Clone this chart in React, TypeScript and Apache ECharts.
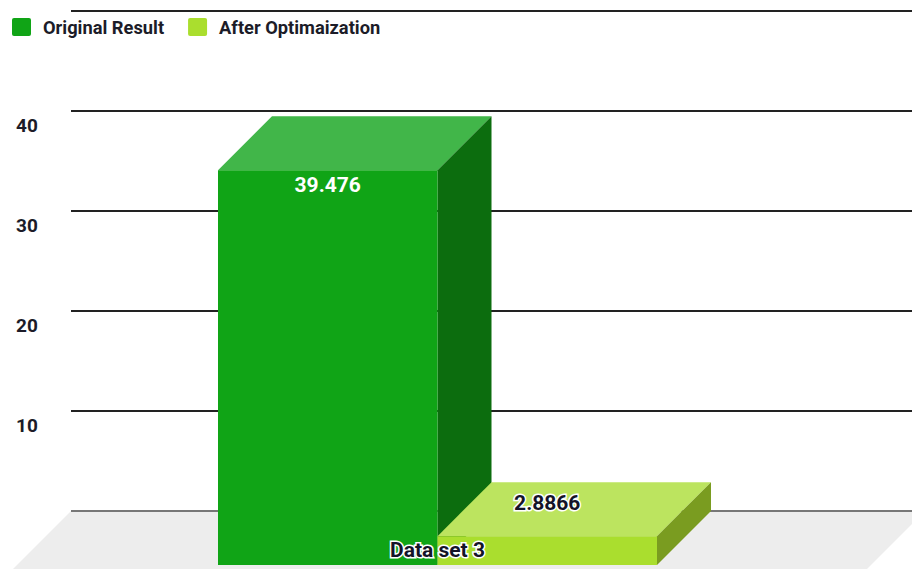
import React, { useEffect, useRef } from "react";
import * as echarts from "echarts";

const categories = ["Data set 3"];
const seriesNames = ["Original Result", "After Optimaization"];
const originalResult = [39.476];
const afterOptimization = [2.8866];
const yTicks = [10, 20, 30, 40];

const FONT = "Roboto, sans-serif";
const DEPTH = 54;
const BAR_SHARE = 0.261;
const LEGEND_ICON = "path://M2 0H17Q19 0 19 2V16Q19 18 17 18H2Q0 18 0 16V2Q0 0 2 0Z";

type Look = {
  front: string;
  top: string;
  side: string;
  labelFill: string;
  labelHalo: number;
  labelY: (frontTop: number, backTop: number) => number;
};

const looks: Look[] = [
  {
    front: "#10a416",
    top: "#41b649",
    side: "#0c6d0e",
    labelFill: "#ffffff",
    labelHalo: 0,
    labelY: (frontTop) => frontTop + 15,
  },
  {
    front: "#aade2e",
    top: "#bce45f",
    side: "#7a9c20",
    labelFill: "#141428",
    labelHalo: 3,
    labelY: (_frontTop, backTop) => backTop + 21,
  },
];

// Draws one extruded bar: top and side faces first, then the front, then its value.
function barRenderer(slot: number, look: Look) {
  return (_params: any, api: any) => {
    const value = api.value(1);
    const centre = api.coord([api.value(0), 0]);
    const backTop = api.coord([api.value(0), value])[1];
    const base = centre[1];
    const width = api.size([1, 0])[0] * BAR_SHARE;
    const backLeft = centre[0] + slot * width;
    const backRight = backLeft + width;
    const frontLeft = backLeft - DEPTH;
    const frontRight = backRight - DEPTH;
    const frontTop = backTop + DEPTH;
    const frontBase = base + DEPTH;
    return {
      type: "group",
      children: [
        {
          type: "polygon",
          shape: {
            points: [
              [frontLeft, frontTop],
              [backLeft, backTop],
              [backRight, backTop],
              [frontRight, frontTop],
            ],
          },
          style: { fill: look.top },
        },
        {
          type: "polygon",
          shape: {
            points: [
              [frontRight, frontTop],
              [backRight, backTop],
              [backRight, base],
              [frontRight, frontBase],
            ],
          },
          style: { fill: look.side },
        },
        {
          type: "rect",
          shape: {
            x: frontLeft,
            y: frontTop,
            width: frontRight - frontLeft,
            height: frontBase - frontTop,
          },
          style: { fill: look.front },
        },
        {
          type: "text",
          style: {
            text: String(value),
            x: (frontLeft + frontRight) / 2,
            y: look.labelY(frontTop, backTop),
            align: "center",
            verticalAlign: "middle",
            fontFamily: FONT,
            fontWeight: 700,
            fontSize: 21,
            fill: look.labelFill,
            stroke: look.labelHalo ? "#ffffff" : "transparent",
            lineWidth: look.labelHalo,
          },
        },
      ],
    };
  };
}

// Pale floor plane running from the back baseline towards the viewer.
function floorRenderer(params: any, api: any) {
  const sys = params.coordSys;
  const base = sys.y + sys.height;
  const left = sys.x;
  const right = sys.x + sys.width + 13;
  return {
    type: "polygon",
    shape: {
      points: [
        [left, base],
        [right, base],
        [right - 58, base + 58],
        [left - 58, base + 58],
      ],
    },
    style: { fill: "#ededed" },
  };
}

export default function App() {
  const ref = useRef<HTMLDivElement>(null);

  useEffect(() => {
    document.body.style.margin = "0";
    const chart = echarts.init(ref.current!, undefined, { renderer: "svg" });
    chart.setOption({
      animation: false,
      backgroundColor: "#ffffff",
      grid: { left: 71, right: 0, top: 11, bottom: 58 },
      legend: {
        left: 12,
        top: 18,
        padding: 0,
        itemWidth: 19,
        itemHeight: 18,
        itemGap: 24,
        icon: LEGEND_ICON,
        data: seriesNames,
        textStyle: {
          fontFamily: FONT,
          fontWeight: 700,
          fontSize: 18.3,
          color: "#1c1c28",
          padding: [0, 0, 0, 7],
        },
      },
      xAxis: {
        type: "category",
        data: categories,
        z: 10,
        axisLine: { show: false },
        axisTick: { show: false },
        axisLabel: {
          margin: 28,
          padding: [0, 108, 0, 0],
          fontFamily: FONT,
          fontWeight: 700,
          fontSize: 21,
          color: "#141428",
          textBorderColor: "#ffffff",
          textBorderWidth: 3,
        },
      },
      yAxis: {
        type: "value",
        min: 0,
        max: 50,
        interval: 10,
        axisLine: { show: false },
        axisTick: { show: false },
        axisLabel: {
          margin: 55,
          align: "left",
          verticalAlign: "top",
          padding: [5, 0, 0, 0],
          fontFamily: FONT,
          fontWeight: 700,
          fontSize: 19,
          color: "#1c1c28",
          formatter: (v: number) => (yTicks.includes(v) ? String(v) : ""),
        },
        splitLine: {
          lineStyle: {
            width: 2,
            color: ["#777777", "#222222", "#222222", "#222222", "#222222", "#222222"],
          },
        },
      },
      series: [
        {
          type: "custom",
          silent: true,
          z: -1,
          renderItem: floorRenderer,
          data: [[0, 0]],
          legendHoverLink: false,
        },
        {
          type: "custom",
          name: seriesNames[0],
          z: 3,
          renderItem: barRenderer(-1, looks[0]),
          itemStyle: { color: looks[0].front },
          encode: { x: 0, y: 1 },
          data: originalResult.map((v, i) => [i, v]),
        },
        {
          type: "custom",
          name: seriesNames[1],
          z: 4,
          renderItem: barRenderer(0, looks[1]),
          itemStyle: { color: looks[1].front },
          encode: { x: 0, y: 1 },
          data: afterOptimization.map((v, i) => [i, v]),
        },
      ],
    });
    return () => chart.dispose();
  }, []);

  return <div ref={ref} style={{ width: 912, height: 569 }} />;
}
